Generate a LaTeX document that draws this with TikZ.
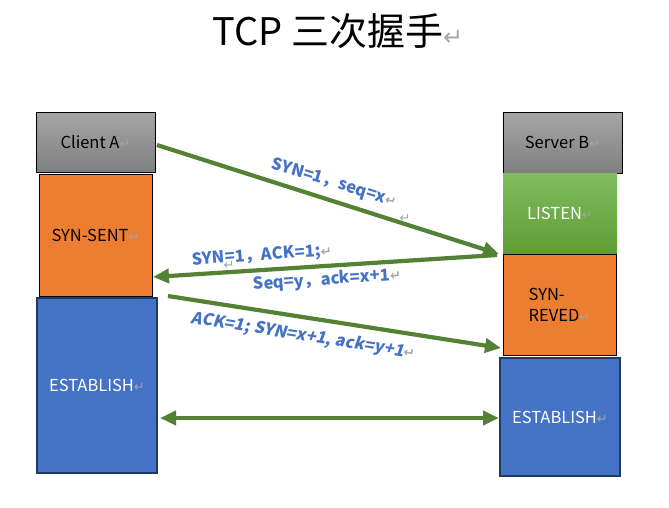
\documentclass[tikz,border=0pt]{standalone}
\usepackage{fontspec}
\setmainfont{Noto Sans CJK SC}
\newfontfamily\djv{DejaVu Sans}
\newfontfamily\cjkit[FakeSlant=0.18]{Noto Sans CJK SC}
\usetikzlibrary{arrows.meta}
\definecolor{grtop}{HTML}{A6A6A6}
\definecolor{grbot}{HTML}{7F7F7F}
\definecolor{orng}{HTML}{ED7D31}
\definecolor{blu}{HTML}{4472C4}
\definecolor{bluedge}{HTML}{1F3864}
\definecolor{lgtop}{HTML}{80BC5E}
\definecolor{lgbot}{HTML}{5E9E34}
\definecolor{arrg}{HTML}{548235}
\definecolor{lbl}{HTML}{4472C4}
\newcommand\pmk{{\djv\color{black!35}\fontsize{13}{13}\selectfont ↵}}
\tikzset{
  box/.style={draw=black, line width=1pt, inner sep=0pt, font=\fontsize{16.5}{21}\selectfont},
  graybox/.style={box, top color=grtop, bottom color=grbot},
  orbox/.style={box, fill=orng},
  blbox/.style={box, draw=bluedge, line width=1.3pt, fill=blu, text=white},
  flow/.style={draw=arrg, line width=4.2pt, -{Triangle[length=16pt,width=14pt]}},
  both/.style={draw=arrg, line width=4.2pt, {Triangle[length=16pt,width=14pt]}-{Triangle[length=16pt,width=14pt]}},
  msg/.style={text=lbl, font=\bfseries\fontsize{16.5}{19}\selectfont, inner sep=0pt}
}
\begin{document}
\begin{tikzpicture}[x=1pt,y=-1pt]
\useasboundingbox (0,0) rectangle (669,507);
\node[inner sep=0pt, font=\fontsize{38}{42}\selectfont] (title) at (338,31) {TCP 三次握手{\djv\color{black!35}\fontsize{24}{24}\selectfont ↵}};
% client side
\node[graybox, minimum width=119pt, minimum height=60pt] (ca) at (95.5,142) {Client A\pmk};
\node[orbox, minimum width=113pt, minimum height=122pt] (ss) at (95.5,235) {SYN-SENT\pmk};
\node[blbox, minimum width=120pt, minimum height=175pt] (el) at (97,385.5) {ESTABLISH\pmk};
% server side
\node[graybox, minimum width=119pt, minimum height=61pt] (sb) at (562.5,142.5) {Server B\pmk};
\node[box, draw=none, top color=lgtop, bottom color=lgbot, text=white, minimum width=114pt, minimum height=80pt] (li) at (560,213) {LISTEN\pmk};
\node[orbox, minimum width=113pt, minimum height=101pt, align=left] (sr) at (559.5,304.5) {SYN-\\REVED\pmk};
\node[blbox, minimum width=120pt, minimum height=118pt] (er) at (560,417) {ESTABLISH\pmk};
% arrow end points
\coordinate (p1) at (157,145);
\coordinate (q1) at (499,254);
\coordinate (p2) at (497,255);
\coordinate (q2) at (153,277);
\coordinate (p3) at (168,296);
\coordinate (q3) at (501,348);
\coordinate (p4) at (160,418);
\coordinate (q4) at (499,418);
\draw[flow] (p1) -- (q1);
\draw[flow] (p2) -- (q2);
\draw[flow] (p3) -- (q3);
\draw[both] (p4) -- (q4);
% labels
\node[msg, rotate=-17] (m1) at (334,183) {SYN=1，seq=x\pmk};
\node[inner sep=0pt] (m1b) at (405,218) {\pmk};
\node[msg, rotate=4] (m2) at (262,256) {SYN=1，ACK=1;\pmk};
\node[inner sep=0pt] (m2b) at (229,265) {\pmk};
\node[msg, rotate=4] (m3) at (327,280) {Seq=y，ack=x+1\pmk};
\node[msg, rotate=-9, font=\cjkit\bfseries\fontsize{16.5}{19}\selectfont] (m4) at (303,336) {ACK=1; SYN=x+1, ack=y+1\pmk};
\end{tikzpicture}
\end{document}
